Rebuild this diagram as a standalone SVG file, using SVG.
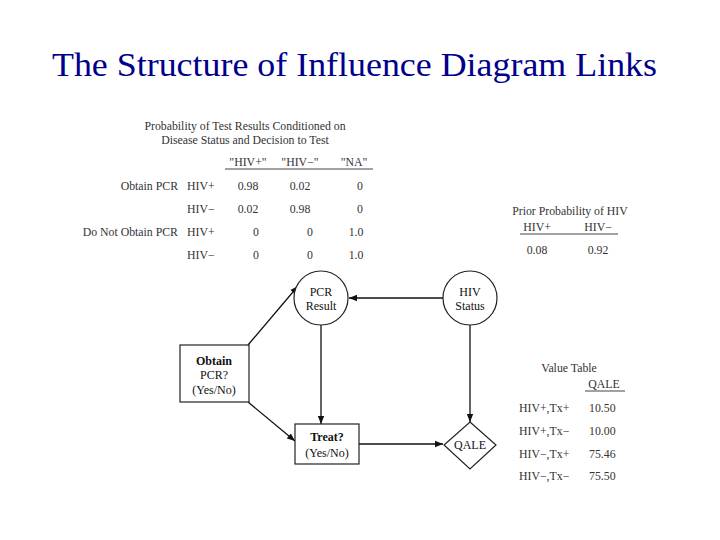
<svg xmlns="http://www.w3.org/2000/svg" width="720" height="540" viewBox="0 0 720 540">
<style>
.t{font-family:"Liberation Serif","Times New Roman",serif;font-size:11.8px;fill:#333}
.m{text-anchor:middle}
.e{text-anchor:end}
.n{font-family:"Liberation Serif","Times New Roman",serif;font-size:12px;fill:#111;text-anchor:middle}
.s{fill:#fff;stroke:#222;stroke-width:1.2}
.c{stroke:#111;stroke-width:1.3;fill:none;marker-end:url(#a)}
.u{stroke:#444;stroke-width:1}
</style>
<defs>
<marker id="a" viewBox="0 0 10 10" refX="10" refY="5" markerWidth="8" markerHeight="8" markerUnits="userSpaceOnUse" orient="auto">
<path d="M0,1 L10,5 L0,9 z" fill="#111"/>
</marker>
</defs>
<rect width="720" height="540" fill="#fff"/>
<text x="52" y="76" textLength="605" lengthAdjust="spacingAndGlyphs" font-family="Liberation Serif, Times New Roman, serif" font-size="33" fill="#00008b">The Structure of Influence Diagram Links</text>

<g id="prob-table">
<text class="t m" x="245" y="130">Probability of Test Results Conditioned on</text>
<text class="t m" x="245" y="144">Disease Status and Decision to Test</text>
<text class="t m" x="248" y="166">"HIV+"</text>
<text class="t m" x="300" y="166">"HIV−"</text>
<text class="t m" x="354" y="166">"NA"</text>
<line class="u" x1="225" y1="169" x2="373" y2="169"/>
<text class="t e" x="178" y="190">Obtain PCR</text>
<text class="t" x="187" y="190">HIV+</text>
<text class="t m" x="248" y="190">0.98</text>
<text class="t m" x="300" y="190">0.02</text>
<text class="t m" x="360" y="190">0</text>
<text class="t" x="187" y="213">HIV−</text>
<text class="t m" x="248" y="213">0.02</text>
<text class="t m" x="300" y="213">0.98</text>
<text class="t m" x="360" y="213">0</text>
<text class="t e" x="178" y="236">Do Not Obtain PCR</text>
<text class="t" x="187" y="236">HIV+</text>
<text class="t m" x="256" y="236">0</text>
<text class="t m" x="310" y="236">0</text>
<text class="t m" x="356" y="236">1.0</text>
<text class="t" x="187" y="259">HIV−</text>
<text class="t m" x="256" y="259">0</text>
<text class="t m" x="310" y="259">0</text>
<text class="t m" x="356" y="259">1.0</text>
</g>

<g id="prior-table">
<text class="t m" x="570" y="215">Prior Probability of HIV</text>
<text class="t m" x="537" y="231">HIV+</text>
<text class="t m" x="598" y="231">HIV−</text>
<line class="u" x1="520" y1="234" x2="618" y2="234"/>
<text class="t m" x="537" y="254">0.08</text>
<text class="t m" x="598" y="254">0.92</text>
</g>

<g id="value-table">
<text class="t m" x="569" y="372">Value Table</text>
<text class="t m" x="604" y="388">QALE</text>
<line class="u" x1="585" y1="391" x2="625" y2="391"/>
<text class="t" x="519" y="412">HIV+,Tx+</text>
<text class="t" x="589" y="412">10.50</text>
<text class="t" x="519" y="435">HIV+,Tx−</text>
<text class="t" x="589" y="435">10.00</text>
<text class="t" x="519" y="458">HIV−,Tx+</text>
<text class="t" x="589" y="458">75.46</text>
<text class="t" x="519" y="480">HIV−,Tx−</text>
<text class="t" x="589" y="480">75.50</text>
</g>

<g id="connectors">
<line class="c" x1="248" y1="345" x2="298" y2="286"/>
<line class="c" x1="248" y1="402" x2="295" y2="441"/>
<line class="c" x1="443" y1="298" x2="349" y2="298"/>
<line class="c" x1="321" y1="325" x2="321" y2="424"/>
<line class="c" x1="470" y1="325" x2="470" y2="422"/>
<line class="c" x1="359" y1="444" x2="443" y2="444"/>
</g>

<g id="node-obtain">
<rect class="s" x="180" y="345" width="69" height="57" stroke-width="1.8"/>
<text class="n" x="214" y="365" font-weight="bold">Obtain</text>
<text class="n" x="214" y="379">PCR?</text>
<text class="n" x="214" y="394">(Yes/No)</text>
</g>

<g id="node-pcr">
<circle class="s" cx="321" cy="298" r="27"/>
<text class="n" x="321" y="296">PCR</text>
<text class="n" x="321" y="310">Result</text>
</g>

<g id="node-hiv">
<circle class="s" cx="470" cy="298" r="27"/>
<text class="n" x="470" y="296">HIV</text>
<text class="n" x="470" y="310">Status</text>
</g>

<g id="node-treat">
<rect class="s" x="295" y="424" width="64" height="40"/>
<text class="n" x="327" y="441" font-weight="bold">Treat?</text>
<text class="n" x="327" y="457">(Yes/No)</text>
</g>

<g id="node-qale">
<polygon class="s" points="470,422 496,445 470,469 444,445"/>
<text class="n" x="470" y="449">QALE</text>
</g>
</svg>
